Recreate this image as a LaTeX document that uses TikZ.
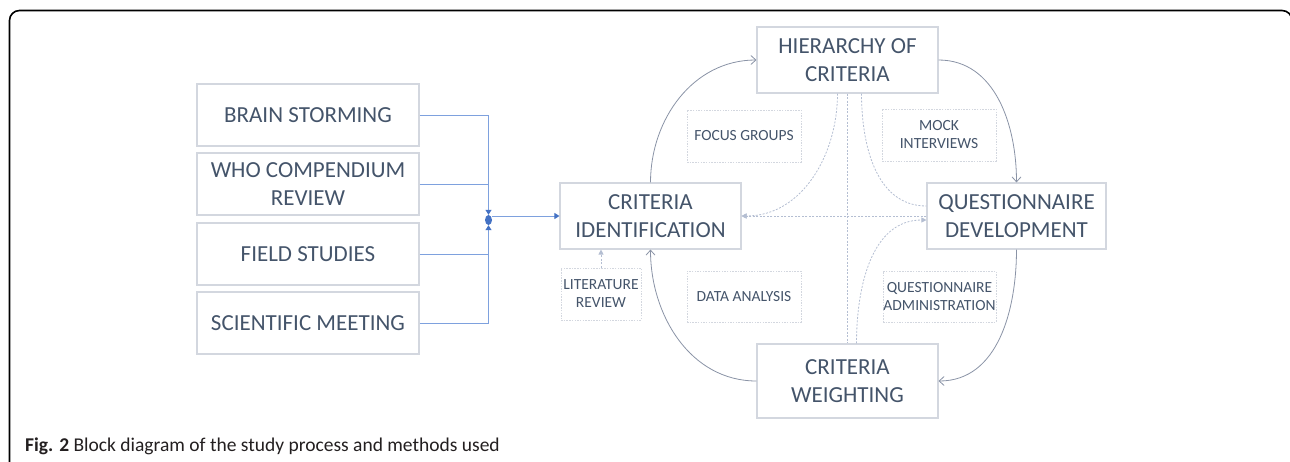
\documentclass[tikz,border=0pt]{standalone}
\usepackage{fontspec}
\setmainfont{Carlito}
\usetikzlibrary{arrows.meta,shapes.geometric}
\definecolor{txt}{HTML}{44546A}
\definecolor{boxc}{HTML}{D3D7DF}
\definecolor{blueln}{HTML}{7EA1DE}
\definecolor{bluedk}{HTML}{4472C4}
\definecolor{arrc}{HTML}{8A93A6}
\definecolor{dashc}{HTML}{B4BED2}
\definecolor{capc}{HTML}{231F20}
\begin{document}
\begin{tikzpicture}[x=1pt,y=-1pt,
  bigbox/.style={draw=boxc, line width=1.1pt, text=txt, font=\fontsize{23}{28}\selectfont, align=center, inner sep=0pt},
  smallbox/.style={draw=boxc, line width=0.9pt, dash pattern=on 1.5pt off 1.2pt, text=txt, font=\fontsize{15.5}{18}\selectfont, align=center, inner sep=0pt},
  bluelink/.style={draw=blueln, line width=1pt},
  bluetip/.style={-{Triangle[length=5pt,width=6pt,color=bluedk]}},
  cyclearrow/.style={draw=arrc, line width=0.8pt, -{Straight Barb[length=5pt,width=9pt]}},
  dashlink/.style={draw=dashc, line width=0.8pt, dash pattern=on 2pt off 1.5pt},
  dashtip/.style={-{Triangle[length=5pt,width=5pt,color=dashc]}}
]
\useasboundingbox (0,0) rectangle (1290,461);
\clip (0,0) rectangle (1290,461);
% frame
\draw[line width=1.6pt, rounded corners=10pt] (9.5,470) -- (9.5,10.5) -- (1292,10.5) -- (1292,470);

% left boxes
\node[bigbox, minimum width=222, minimum height=62] (bs) at (308,115) {BRAIN STORMING};
\node[bigbox, minimum width=222, minimum height=62] (who) at (308,184) {WHO COMPENDIUM\\REVIEW};
\node[bigbox, minimum width=222, minimum height=62] (fs) at (308,254) {FIELD STUDIES};
\node[bigbox, minimum width=222, minimum height=62] (sm) at (308,323) {SCIENTIFIC MEETING};

% junction
\node[ellipse, fill=bluedk, minimum width=7pt, minimum height=10pt, inner sep=0pt] (j) at (488.5,220) {};

% cycle boxes
\node[bigbox, minimum width=181, minimum height=66] (hc) at (847.5,60) {HIERARCHY OF\\CRITERIA};
\node[bigbox, minimum width=181, minimum height=66] (ci) at (650.5,216) {CRITERIA\\IDENTIFICATION};
\node[bigbox, minimum width=179, minimum height=66] (qd) at (1016.5,216) {QUESTIONNAIRE\\DEVELOPMENT};
\node[bigbox, minimum width=181, minimum height=74] (cw) at (847.5,381) {CRITERIA\\WEIGHTING};

% method boxes
\node[smallbox, minimum width=114, minimum height=52] (fg) at (744,136) {FOCUS GROUPS};
\node[smallbox, minimum width=114, minimum height=52] (mi) at (939,135) {MOCK\\INTERVIEWS};
\node[smallbox, minimum width=80, minimum height=52] (lr) at (601,294) {LITERATURE\\REVIEW};
\node[smallbox, minimum width=114, minimum height=51] (da) at (744,296.5) {DATA ANALYSIS};
\node[smallbox, minimum width=113, minimum height=51] (qa) at (939.5,296.5) {QUESTIONNAIRE\\ADMINISTRATION};

% blue connectors
\draw[bluelink, bluetip] (bs.east) -| (j.north);
\draw[bluelink] (who.east) -- (who.east -| j.north);
\draw[bluelink] (fs.east) -- (fs.east -| j.south);
\draw[bluelink, bluetip] (sm.east) -| (j.south);
\draw[bluelink, bluetip] (j.east |- ci.west) -- (ci.west);

% cycle arrows
\draw[cyclearrow] (ci.north) to[out=90, in=180] (hc.west);
\draw[cyclearrow] (hc.east) to[out=0, in=90] (qd.north);
\draw[cyclearrow] (qd.south) to[out=270, in=0] (cw.east);
\draw[cyclearrow] (cw.west) to[out=180, in=270] (ci.south);

% dashed links
\coordinate (hcl) at ([xshift=-10pt]hc.south);
\coordinate (hcr) at ([xshift=14pt]hc.south);
\coordinate (cwr) at ([xshift=9pt]cw.north);
\coordinate (qdu) at ([yshift=10pt]qd.west);
\coordinate (qdd) at ([yshift=-4pt]qd.west);
\draw[dashlink, dashtip] (hcl) to[out=270, in=0] (ci.east);
\draw[dashlink] (hcr) to[out=270, in=180] (qdu);
\draw[dashlink] (hc.south) -- (cw.north);
\draw[dashlink, dashtip] (qd.west) -- (ci.east);
\draw[dashlink, dashtip] (cwr) to[out=90, in=180] (qdd);
\draw[dashlink, dashtip] (lr.north) -- (lr.north |- ci.south);

% caption
\node[anchor=base west, inner sep=0pt, text=capc, font=\fontsize{19.5}{22}\selectfont] (cap) at (25,451) {\textbf{Fig. 2} Block diagram of the study process and methods used};
\end{tikzpicture}
\end{document}
